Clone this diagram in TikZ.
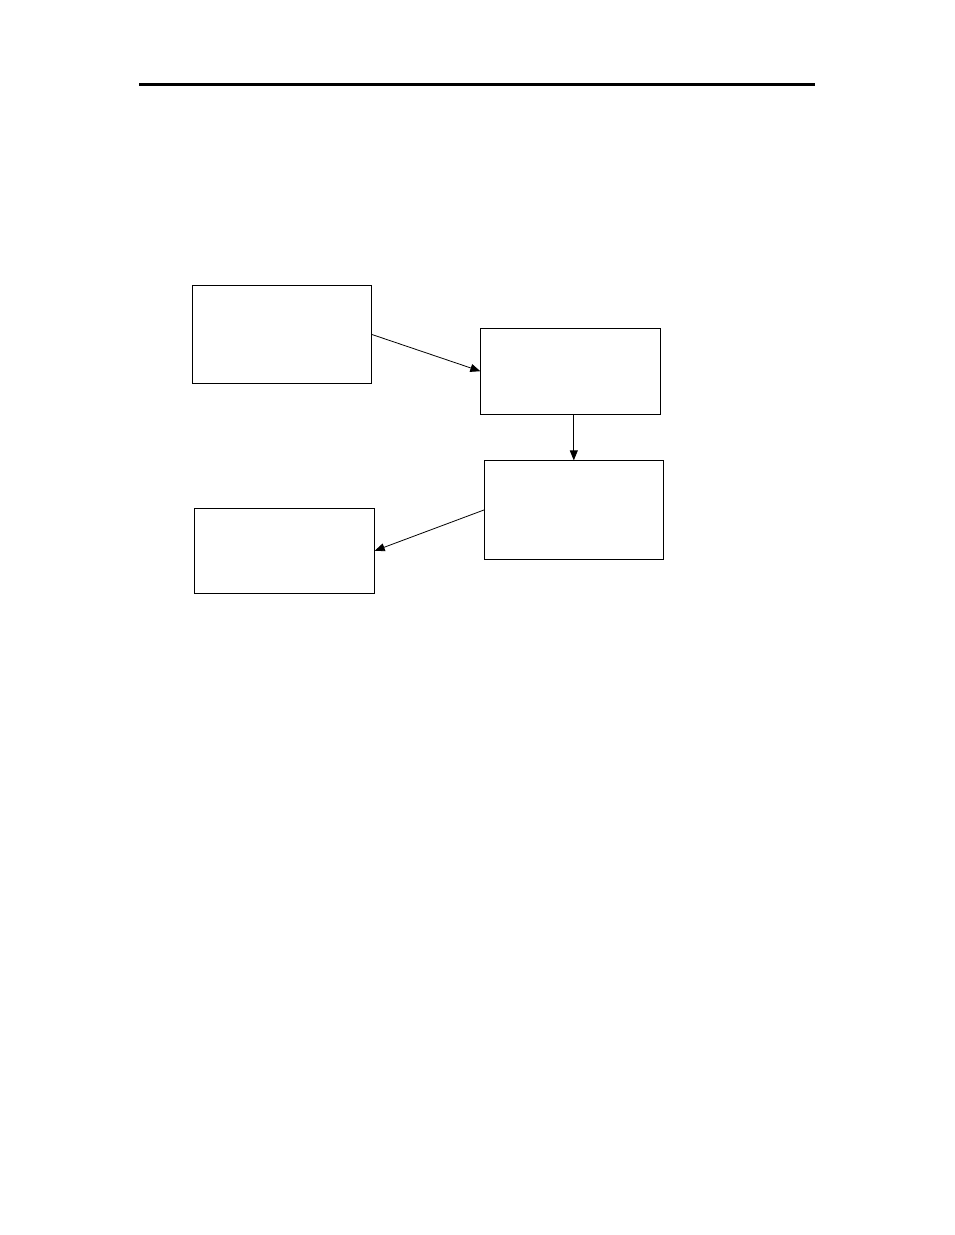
\documentclass[tikz,border=0pt]{standalone}
\usetikzlibrary{arrows.meta}

\begin{document}
\begin{tikzpicture}
        [x=1pt,y=-1pt,
          boxdecorate/.style={shape=rectangle,draw,line width=0.8pt,inner sep=0pt},%
          linedecorate/.style={-{Triangle[length=10pt,width=8pt]},line width=0.8pt}]
        \useasboundingbox (0,0) rectangle (954,1235);
        %% rule across the top of the page
        \draw[line width=3pt] (139,84) -- (815,84);
        %% boxes
        \foreach \nodename/\cx/\cy/\w/\h in {first/281.8/334.5/179.5/97.5,
          second/570.5/371.2/179.5/86, third/573.8/510/179/98.5,
          fourth/284.3/550.8/180/85}
        {
          \node (\nodename) at (\cx,\cy) [boxdecorate,minimum width=\w pt,
            minimum height=\h pt] {};
        }
        %% arrows between the boxes
        \path
        (first.east) edge[linedecorate] (second.west)
        (second.south -| third.north) edge[linedecorate] (third.north)
        (third.west) edge[linedecorate] (fourth.east);
        \end{tikzpicture}
\end{document}
